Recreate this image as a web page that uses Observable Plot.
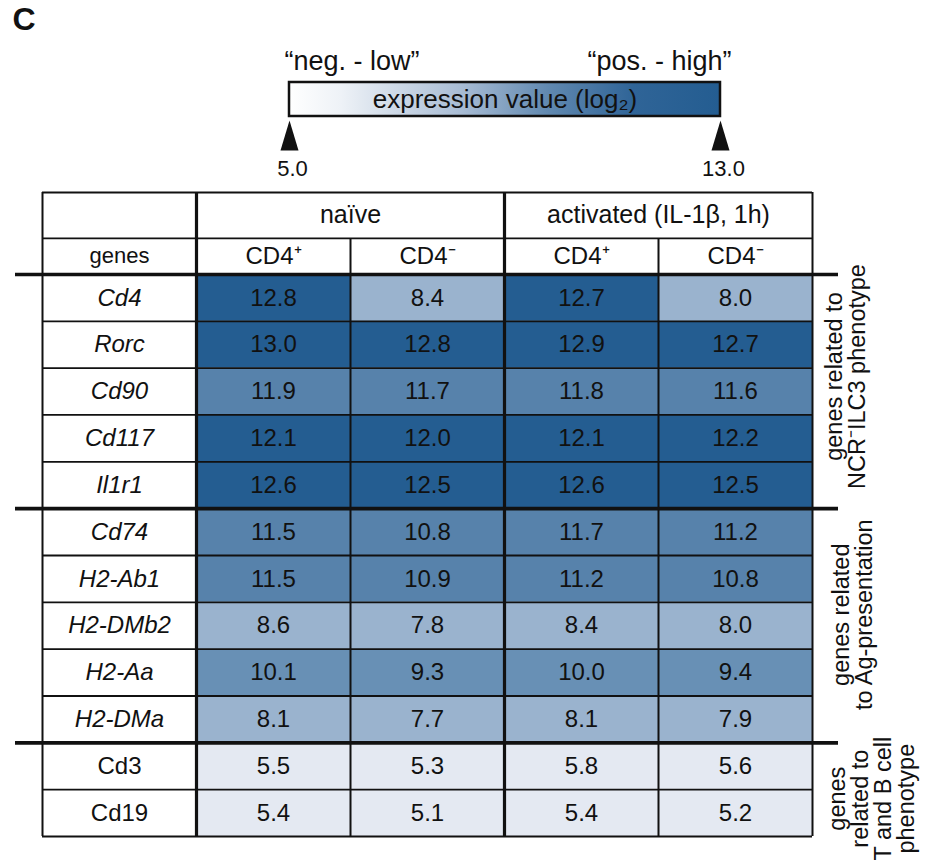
<!DOCTYPE html>
<html>
<head>
<meta charset="utf-8">
<script src="https://cdn.jsdelivr.net/npm/d3@7"></script>
<script src="https://cdn.jsdelivr.net/npm/@observablehq/plot@0.6"></script>
<style>
  html, body { margin: 0; padding: 0; background: #fff; }
  #chart svg { display: block; }
</style>
</head>
<body>
<div id="chart"></div>
<script>
// ---------------- data ----------------
const panelLabel = "C";
const legendTitle = "expression value (log₂)";
const legendLow = "“neg. - low”";
const legendHigh = "“pos. - high”";
const legendTicks = [5.0, 13.0];

const conditionGroups = ["naïve", "activated (IL-1β, 1h)"];
const columnLabels = ["CD4⁺", "CD4⁻", "CD4⁺", "CD4⁻"];
const geneHeader = "genes";

const genes = ["Cd4", "Rorc", "Cd90", "Cd117", "Il1r1", "Cd74", "H2-Ab1", "H2-DMb2", "H2-Aa", "H2-DMa", "Cd3", "Cd19"];
const naiveCD4pos     = [12.8, 13.0, 11.9, 12.1, 12.6, 11.5, 11.5, 8.6, 10.1, 8.1, 5.5, 5.4];
const naiveCD4neg     = [8.4, 12.8, 11.7, 12.0, 12.5, 10.8, 10.9, 7.8, 9.3, 7.7, 5.3, 5.1];
const activatedCD4pos = [12.7, 12.9, 11.8, 12.1, 12.6, 11.7, 11.2, 8.4, 10.0, 8.1, 5.8, 5.4];
const activatedCD4neg = [8.0, 12.7, 11.6, 12.2, 12.5, 11.2, 10.8, 8.0, 9.4, 7.9, 5.6, 5.2];

const geneGroups = ["genes related to\nNCR⁻ILC3 phenotype", "genes related\nto Ag-presentation", "genes\nrelated to\nT and B cell\nphenotype"];
const geneGroupSizes = [5, 5, 2];

// ---------------- derived tables ----------------
const series = [naiveCD4pos, naiveCD4neg, activatedCD4pos, activatedCD4neg];
let acc = 0;
const groups = geneGroups.map((label, k) => {
  const start = acc; acc += geneGroupSizes[k];
  return {label, start, end: acc, k};
});
const groupOf = row => groups.find(g => row >= g.start && row < g.end).k;
const geneRows = genes.map((gene, row) => ({gene, row, italic: groupOf(row) < 2}));
const cells = genes.flatMap((gene, row) => series.map((vals, j) => ({gene, row, col: j + 1, value: vals[row]})));
const nCols = columnLabels.length + 1;
const nRows = genes.length;

const font = "'Liberation Sans', Arial, Helvetica, sans-serif";
const ink = "#111";

// ---------------- legend ----------------
const lo = d3.min(legendTicks), hi = d3.max(legendTicks);
const triangle = {draw(ctx) { ctx.moveTo(0, -15); ctx.lineTo(9, 15); ctx.lineTo(-9, 15); ctx.closePath(); }};

const legend = Plot.plot({
  width: 941, height: 185,
  marginTop: 0, marginRight: 0, marginBottom: 0, marginLeft: 0,
  style: {fontFamily: font, color: ink, background: "#fff"},
  x: {type: "linear", domain: [lo, hi], range: [289, 720], axis: null},
  y: {type: "linear", domain: [0, 1], range: [116, 82], axis: null},
  marks: [
    Plot.text([panelLabel], {frameAnchor: "top-left", dx: 12, dy: 7, lineAnchor: "top", textAnchor: "start", fontSize: 32, fontWeight: "bold"}),
    Plot.rect([{lo, hi}], {x1: "lo", x2: "hi", y1: 0, y2: 1, fill: "url(#exprGrad)", stroke: ink, strokeWidth: 2.5}),
    Plot.text([legendTitle], {x: (lo + hi) / 2, y: 0.5, fontSize: 26}),
    Plot.text([legendLow], {x: lo, y: 1, dy: -21, dx: -5, textAnchor: "start", fontSize: 27}),
    Plot.text([legendHigh], {x: hi, y: 1, dy: -21, dx: 11, textAnchor: "end", fontSize: 27}),
    Plot.dot(legendTicks, {x: d => d, y: 0, dy: 19, symbol: triangle, fill: ink, stroke: "none"}),
    Plot.text(legendTicks, {x: d => d, y: 0, dy: 52, dx: 3, text: d => d.toFixed(1), fontSize: 22})
  ]
});
{
  const ns = "http://www.w3.org/2000/svg";
  const defs = document.createElementNS(ns, "defs");
  const grad = document.createElementNS(ns, "linearGradient");
  grad.setAttribute("id", "exprGrad");
  [[0, "#ffffff"], [0.12, "#eef2f7"], [0.4, "#a8bcd4"], [0.6, "#6189b0"], [0.8, "#2f6497"], [1, "#245d91"]].forEach(([o, c]) => {
    const s = document.createElementNS(ns, "stop");
    s.setAttribute("offset", o); s.setAttribute("stop-color", c); grad.appendChild(s);
  });
  defs.appendChild(grad);
  legend.insertBefore(defs, legend.firstChild);
}

// ---------------- table ----------------
const hdrTop = -1.75, hdrMid = -0.77;           // header row edges, in row units
const yRange = [7, 651];
const rowPx = (yRange[1] - yRange[0]) / (nRows - hdrTop);
const labelShift = [-15, -11, 9];               // px, vertical nudge of group labels
const labelDx = [-13, -6, -10];                 // px, horizontal nudge of group labels

const vLines = d3.range(nCols + 1).map(c => ({
  c,
  top: (c % 2 === 1 || c === 0 || c === nCols) ? hdrTop : hdrMid,
  w: (c === 1 || c === 3) ? 3.2 : 2
}));
const groupEdges = groups.map(g => g.start);
const rowEdges = d3.range(1, nRows).filter(r => !groupEdges.includes(r));

const table = Plot.plot({
  width: 941, height: 675,
  marginTop: 0, marginRight: 103, marginBottom: 0, marginLeft: 15,
  style: {fontFamily: font, color: ink, background: "#fff"},
  x: {type: "linear", domain: [0, nCols], range: [42, 812], axis: null},
  y: {type: "linear", domain: [hdrTop, nRows], range: yRange, axis: null},
  color: {type: "threshold", domain: [7, 9, 10.5, 12], range: ["#e4e9f2", "#9ab3ce", "#6890b5", "#5782ab", "#245d91"]},
  marks: [
    Plot.rect(cells, {x1: "col", x2: d => d.col + 1, y1: "row", y2: d => d.row + 1, fill: "value"}),
    Plot.ruleY(rowEdges, {x1: 0, x2: nCols, stroke: ink, strokeWidth: 1.8}),
    Plot.ruleY([hdrTop, nRows], {x1: 0, x2: nCols, stroke: ink, strokeWidth: 2.2}),
    Plot.ruleY([hdrMid], {x1: 0, x2: nCols, stroke: ink, strokeWidth: 1.6}),
    Plot.ruleX(vLines, {x: "c", y1: "top", y2: nRows, stroke: ink, strokeWidth: "w"}),
    Plot.ruleY(groupEdges, {stroke: ink, strokeWidth: 3.6}),
    // header text
    Plot.text(conditionGroups, {x: (d, i) => 2 * i + 2, y: (hdrTop + hdrMid) / 2, fontSize: 25}),
    Plot.text([geneHeader], {x: 0.5, y: hdrMid / 2, fontSize: 22}),
    Plot.text(columnLabels, {x: (d, i) => i + 1.5, y: hdrMid / 2, fontSize: 24}),
    // gene names
    Plot.text(geneRows.filter(d => d.italic), {x: 0.5, y: d => d.row + 0.5, text: "gene", fontSize: 24, fontStyle: "italic"}),
    Plot.text(geneRows.filter(d => !d.italic), {x: 0.5, y: d => d.row + 0.5, text: "gene", fontSize: 24}),
    // values
    Plot.text(cells, {x: d => d.col + 0.5, y: d => d.row + 0.5, text: d => d.value.toFixed(1), fontSize: 24}),
    // group labels
    ...groups.map(g => Plot.text([g], {
      frameAnchor: "right", y: d => (d.start + d.end) / 2 + labelShift[d.k] / rowPx, text: "label",
      rotate: -90, dx: labelDx[g.k], lineAnchor: "top", textAnchor: "middle", lineHeight: 0.98, fontSize: 23.5
    }))
  ]
});

const root = document.getElementById("chart");
root.appendChild(legend);
root.appendChild(table);
</script>
</body>
</html>
